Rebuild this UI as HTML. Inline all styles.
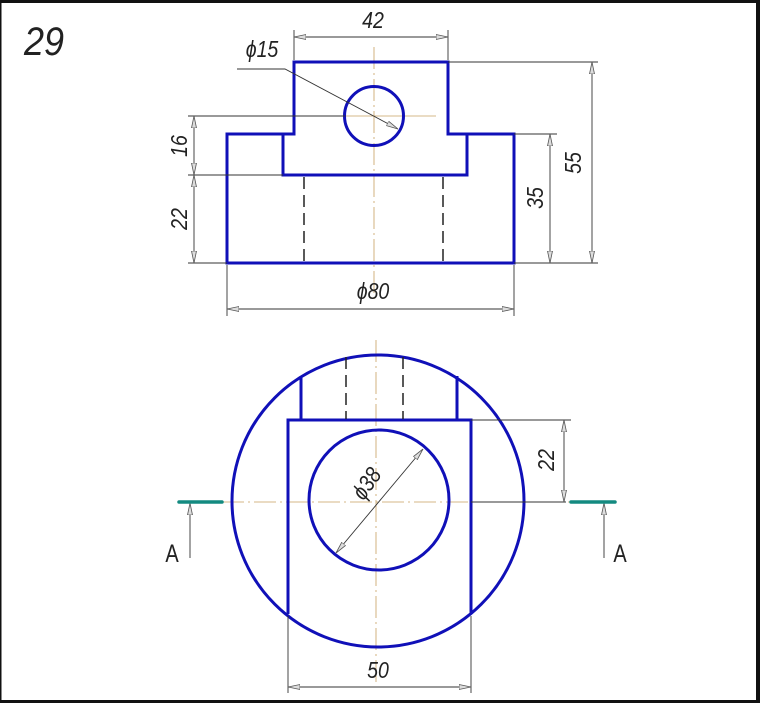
<!DOCTYPE html>
<html><head><style>
html,body{margin:0;padding:0;background:#fff;}
svg{display:block;}
text{font-family:"Liberation Sans",sans-serif;font-style:italic;fill:#222;}
</style></head><body>
<svg width="760" height="703" viewBox="0 0 760 703" xmlns="http://www.w3.org/2000/svg">
<defs>
<marker id="ar" viewBox="0 0 12 6" refX="12" refY="3" markerWidth="12" markerHeight="6" orient="auto-start-reverse" markerUnits="userSpaceOnUse">
<path d="M0,0.5 L12,3 L0,5.5 Z" fill="#ddd" stroke="#555" stroke-width="0.8"/>
</marker>
</defs>
<rect x="0" y="0" width="760" height="703" fill="#fff"/>
<rect x="0" y="0" width="760" height="3" fill="#111"/>
<rect x="0" y="0" width="1.5" height="703" fill="#111"/>
<rect x="756" y="0" width="4" height="703" fill="#111"/>
<rect x="0" y="700" width="760" height="3" fill="#111"/>
<text transform="translate(24,55) scale(0.9,1)" font-size="40">29</text>

<g stroke="#c8a060" stroke-width="0.8" fill="none">
<line x1="374" y1="47" x2="374" y2="300" stroke-dasharray="22,4,2,4"/>
<line x1="345" y1="116" x2="436" y2="116"/>
<line x1="376" y1="340" x2="376" y2="682" stroke-dasharray="22,4,2,4"/>
<line x1="190" y1="502" x2="570" y2="502" stroke-dasharray="22,4,2,4"/>
</g>

<g stroke="#1010b8" stroke-width="3" fill="none">
<path d="M227,263 L227,134 L283,134 L283,175 L467,175 L467,134 L514,134 L514,263 Z"/>
<path d="M283,134 L294,134 L294,62 L448,62 L448,134 L467,134"/>
<circle cx="374" cy="116" r="29.5"/>
</g>
<g stroke="#222" stroke-width="1.5" stroke-dasharray="12,6" fill="none">
<line x1="304" y1="177" x2="304" y2="262"/>
<line x1="443" y1="177" x2="443" y2="262"/>
</g>
<g stroke="#333" stroke-width="0.9" fill="none">
<line x1="294" y1="60" x2="294" y2="30"/><line x1="448" y1="60" x2="448" y2="30"/>
<line x1="294" y1="37" x2="448" y2="37" marker-start="url(#ar)" marker-end="url(#ar)"/>
<path d="M237,69 L285,69 L398,129" marker-end="url(#ar)"/>
<line x1="188" y1="116" x2="345" y2="116"/>
<line x1="188" y1="175" x2="283" y2="175"/>
<line x1="188" y1="263" x2="227" y2="263"/>
<line x1="194" y1="116" x2="194" y2="175" marker-start="url(#ar)" marker-end="url(#ar)"/>
<line x1="194" y1="175" x2="194" y2="263" marker-start="url(#ar)" marker-end="url(#ar)"/>
<line x1="514" y1="134" x2="557" y2="134"/>
<line x1="448" y1="62" x2="598" y2="62"/>
<line x1="514" y1="263" x2="598" y2="263"/>
<line x1="550" y1="134" x2="550" y2="263" marker-start="url(#ar)" marker-end="url(#ar)"/>
<line x1="592" y1="62" x2="592" y2="263" marker-start="url(#ar)" marker-end="url(#ar)"/>
<line x1="227" y1="265" x2="227" y2="316"/><line x1="514" y1="265" x2="514" y2="316"/>
<line x1="227" y1="309" x2="514" y2="309" marker-start="url(#ar)" marker-end="url(#ar)"/>
</g>
<g font-size="23">
<text transform="translate(373,28) scale(0.85,1)" text-anchor="middle">42</text>
<text transform="translate(262,57) scale(0.85,1)" text-anchor="middle">ϕ15</text>
<text transform="translate(373,299) scale(0.85,1)" text-anchor="middle">ϕ80</text>
<text transform="translate(187,146) rotate(-90) scale(0.85,1)" text-anchor="middle">16</text>
<text transform="translate(187,219) rotate(-90) scale(0.85,1)" text-anchor="middle">22</text>
<text transform="translate(543,198) rotate(-90) scale(0.85,1)" text-anchor="middle">35</text>
<text transform="translate(581,163) rotate(-90) scale(0.85,1)" text-anchor="middle">55</text>
</g>

<g stroke="#1010b8" stroke-width="3" fill="none">
<circle cx="378" cy="501" r="146"/>
<circle cx="379" cy="500" r="70"/>
<path d="M288,614 L288,420 L471,420 L471,614"/>
<line x1="301" y1="376" x2="301" y2="420"/>
<line x1="457" y1="376" x2="457" y2="420"/>
</g>
<g stroke="#222" stroke-width="1.5" stroke-dasharray="12,6" fill="none">
<line x1="346" y1="357" x2="346" y2="419"/>
<line x1="403" y1="357" x2="403" y2="419"/>
</g>
<g stroke="#333" stroke-width="0.9" fill="none">
<line x1="471" y1="420" x2="571" y2="420"/>
<line x1="471" y1="502" x2="566" y2="502"/>
<line x1="564" y1="420" x2="564" y2="502" marker-start="url(#ar)" marker-end="url(#ar)"/>
<line x1="336" y1="553" x2="423" y2="449" marker-start="url(#ar)" marker-end="url(#ar)"/>
<line x1="288" y1="616" x2="288" y2="693"/><line x1="471" y1="616" x2="471" y2="693"/>
<line x1="288" y1="687" x2="471" y2="687" marker-start="url(#ar)" marker-end="url(#ar)"/>
<line x1="190" y1="558" x2="190" y2="503" marker-end="url(#ar)"/>
<line x1="604" y1="558" x2="604" y2="503" marker-end="url(#ar)"/>
</g>
<g stroke="#138a80" stroke-width="3.5" stroke-linecap="round">
<line x1="179" y1="502" x2="222" y2="502"/>
<line x1="571" y1="502" x2="615" y2="502"/>
</g>
<g font-size="23">
<text transform="translate(554,460) rotate(-90) scale(0.85,1)" text-anchor="middle">22</text>
<text transform="translate(373,488) rotate(-55) scale(0.85,1)" text-anchor="middle">ϕ38</text>
<text transform="translate(378,678) scale(0.85,1)" text-anchor="middle">50</text>
<text transform="translate(172,562) scale(0.8,1)" font-size="25" text-anchor="middle" style="font-style:normal">A</text>
<text transform="translate(620,562) scale(0.8,1)" font-size="25" text-anchor="middle" style="font-style:normal">A</text>
</g>
</svg>
</body></html>
